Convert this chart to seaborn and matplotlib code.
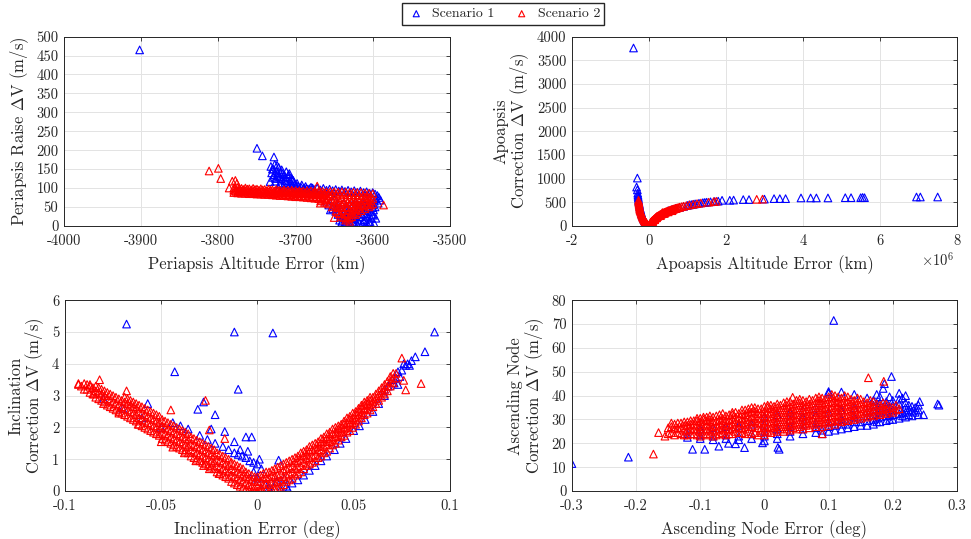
import matplotlib
matplotlib.use("Agg")
import matplotlib.pyplot as plt
import seaborn as sns

# ------------------------------------------------------------
# Data
# columns: (x, [y values at that x]) ; pts: loose (x, y) points
# ------------------------------------------------------------

# --- Periapsis raise ---
peri_s1_pts = [
    (-3902, 465), (-3750, 205), (-3743, 185), (-3728, 182), (-3732, 157), (-3729, 150),
    (-3733, 117), (-3731, 140), (-3729, 128), (-3727, 162), (-3726, 118), (-3725, 145),
    (-3724, 132), (-3722, 155), (-3722, 100), (-3721, 110), (-3720, 140), (-3719, 125),
    (-3718, 148), (-3716, 105), (-3715, 135), (-3714, 120), (-3712, 143), (-3712, 95),
    (-3711, 110), (-3710, 130), (-3709, 100), (-3708, 138), (-3707, 118), (-3705, 125),
    (-3704, 108), (-3702, 115), (-3700, 104), (-3698, 112), (-3695, 100), (-3692, 108),
    (-3690, 98), (-3687, 104), (-3684, 97), (-3680, 102), (-3676, 96), (-3672, 100),
    (-3668, 95), (-3664, 99), (-3660, 94), (-3656, 97), (-3652, 93), (-3648, 96),
    (-3644, 92), (-3640, 95), (-3636, 91), (-3632, 94), (-3628, 90), (-3624, 93),
    (-3620, 89), (-3616, 92), (-3612, 88), (-3608, 90), (-3604, 86), (-3600, 88),
    (-3597, 84), (-3594, 80), (-3596, 72), (-3592, 75), (-3590, 68), (-3598, 65),
    (-3593, 60), (-3600, 55), (-3597, 50),
    (-3730, 150), (-3728, 135), (-3726, 125), (-3724, 160), (-3723, 140), (-3721, 130),
    (-3719, 112), (-3717, 138), (-3713, 128), (-3711, 118), (-3709, 135), (-3706, 112),
    (-3703, 120), (-3701, 110), (-3699, 100), (-3697, 105), (-3693, 102), (-3689, 100),
    (-3686, 99), (-3682, 98), (-3678, 100),
    (-3652, 45), (-3648, 38), (-3645, 30), (-3642, 22), (-3640, 12), (-3641, 5),
    (-3638, 30), (-3636, 18), (-3635, 8), (-3633, 2), (-3632, 26), (-3630, 12),
    (-3628, 4), (-3627, 35), (-3625, 20), (-3624, 8), (-3622, 28), (-3620, 2),
    (-3619, 15), (-3617, 40), (-3616, 24), (-3614, 6), (-3613, 50), (-3611, 32),
    (-3610, 16), (-3609, 4), (-3607, 45), (-3606, 25), (-3605, 10), (-3604, 60),
    (-3603, 38), (-3602, 20), (-3601, 70), (-3600, 48), (-3599, 28), (-3598, 6),
    (-3612, 64), (-3608, 72), (-3618, 55), (-3622, 62), (-3645, 55), (-3655, 42),
    (-3660, 65), (-3650, 70), (-3630, 45), (-3626, 58), (-3634, 48), (-3638, 60),
    (-3643, 15), (-3639, 25), (-3637, 5), (-3634, 15), (-3631, 35), (-3629, 20),
    (-3626, 10), (-3623, 18), (-3621, 38), (-3618, 8), (-3615, 30), (-3612, 12),
    (-3608, 28), (-3606, 2), (-3603, 8), (-3601, 30), (-3599, 42), (-3596, 20),
    (-3605, 55), (-3610, 40), (-3615, 50), (-3620, 45), (-3633, 38), (-3644, 40),
    (-3647, 48), (-3657, 55),
]
peri_s2_cols = [
    (-3780, [100, 94, 88]), (-3775, [101, 93, 87]), (-3770, [99, 92, 86]),
    (-3765, [100, 93, 86]), (-3760, [98, 91, 85]), (-3755, [99, 92, 85]),
    (-3750, [97, 90, 84]), (-3745, [98, 91, 84]), (-3740, [96, 89, 83]),
    (-3735, [97, 90, 83]), (-3730, [95, 88, 82]), (-3725, [96, 89, 81]),
    (-3720, [94, 87, 80]), (-3715, [95, 88, 80]), (-3710, [94, 86, 79]),
    (-3705, [94, 87, 78]), (-3700, [93, 85, 77]), (-3695, [93, 86, 77]),
    (-3690, [92, 84, 76]), (-3685, [93, 85, 75]), (-3680, [92, 83, 74]),
    (-3675, [91, 84, 73]), (-3670, [92, 82, 72]), (-3665, [91, 83, 70]),
    (-3660, [90, 81, 68]), (-3655, [91, 80, 62]), (-3650, [90, 78, 55]),
    (-3645, [89, 75, 62, 48, 35]), (-3640, [90, 74, 57, 40, 25]),
    (-3635, [89, 70, 50, 30, 15]), (-3630, [88, 72, 58, 42, 22, 12]),
    (-3625, [89, 70, 58, 45, 30]), (-3620, [88, 72, 50, 35]),
    (-3615, [88, 74, 55, 40]), (-3610, [87, 76, 60, 45]),
    (-3605, [86, 75, 62, 50]), (-3600, [85, 72, 58]),
    (-3777.5, [97, 91]), (-3772.5, [98, 90]), (-3767.5, [96, 89]), (-3762.5, [97, 89]),
    (-3757.5, [95, 88]), (-3752.5, [96, 88]), (-3747.5, [94, 87]), (-3742.5, [95, 87]),
    (-3737.5, [93, 86]), (-3732.5, [94, 86]), (-3727.5, [92, 85]), (-3722.5, [93, 84]),
    (-3717.5, [91, 83]), (-3712.5, [91, 82]), (-3707.5, [90, 82]), (-3702.5, [90, 81]),
    (-3697.5, [89, 80]), (-3692.5, [89, 80]), (-3687.5, [88, 79]), (-3682.5, [88, 78]),
    (-3677.5, [87, 77]), (-3672.5, [87, 76]), (-3667.5, [86, 75, 66]),
    (-3662.5, [86, 73, 62]), (-3657.5, [85, 70, 58]), (-3652.5, [85, 68, 50]),
    (-3647.5, [84, 66, 52, 40]), (-3642.5, [84, 64, 48, 32]),
    (-3637.5, [83, 62, 40, 22]), (-3632.5, [82, 64, 48, 32, 18]),
    (-3627.5, [82, 64, 50, 36, 24]), (-3622.5, [82, 65, 55, 42, 30]),
    (-3617.5, [81, 66, 50, 45]), (-3612.5, [80, 68, 54]), (-3607.5, [80, 68, 56]),
    (-3602.5, [78, 66, 55]),
]
peri_s2_pts = [
    (-3812, 145), (-3800, 152), (-3797, 125), (-3786, 100), (-3782, 118), (-3778, 120),
    (-3776, 112), (-3672, 105), (-3668, 60), (-3650, 22), (-3586, 55),
]

# --- Apoapsis correction (x in units of 1e6 km) ---
apo_s1_pts = [
    (-0.40, 3760), (-0.30, 1010), (-0.32, 820), (-0.30, 760),
    (-0.29, 690), (-0.285, 650), (-0.28, 620), (-0.275, 590), (-0.27, 560), (-0.265, 530),
    (-0.26, 500), (-0.25, 470), (-0.245, 440), (-0.24, 410), (-0.23, 380), (-0.22, 350),
    (-0.21, 320), (-0.20, 290), (-0.19, 260), (-0.18, 230), (-0.165, 200), (-0.15, 170),
    (-0.135, 140), (-0.12, 115), (-0.10, 90), (-0.08, 65), (-0.06, 45), (-0.04, 25),
    (-0.02, 10),
    (0.50, 320), (0.60, 345), (0.70, 372), (0.80, 392), (0.90, 412), (1.00, 432),
    (1.05, 445), (1.10, 450), (1.15, 458), (1.20, 465), (1.30, 478), (1.40, 490),
    (1.45, 495), (1.50, 500), (1.60, 508), (1.70, 515), (1.80, 522), (1.90, 540),
    (2.10, 540), (2.20, 545), (2.45, 555), (2.60, 555), (3.00, 565), (3.25, 575),
    (3.40, 575), (3.55, 575), (3.95, 590), (4.20, 590), (4.35, 590), (4.65, 590),
    (5.10, 595), (5.25, 595), (5.50, 595), (5.55, 600), (5.60, 595), (6.95, 610),
    (7.05, 610), (7.50, 610),
]
apo_s2_pts = [
    (-0.27, 540), (-0.26, 480), (-0.25, 430), (-0.24, 370), (-0.23, 330), (-0.21, 290),
    (-0.20, 260), (-0.18, 220), (-0.16, 180), (-0.14, 150), (-0.12, 120), (-0.10, 95),
    (-0.08, 70), (-0.06, 50), (-0.04, 30), (-0.02, 12), (0.00, 0), (0.01, 5),
    (-0.265, 510), (-0.255, 455), (-0.245, 400), (-0.235, 350), (-0.22, 310),
    (-0.19, 240), (-0.17, 200), (-0.15, 165), (-0.13, 135), (-0.11, 108), (-0.09, 82),
    (-0.07, 60), (-0.05, 40), (-0.03, 20), (-0.01, 5),
    (0.02, 30), (0.03, 45), (0.04, 55), (0.05, 70), (0.06, 80), (0.07, 90), (0.08, 100),
    (0.10, 115), (0.12, 130), (0.14, 145), (0.16, 160), (0.18, 175), (0.20, 190),
    (0.22, 200), (0.25, 215), (0.28, 230), (0.31, 245), (0.34, 258), (0.37, 270),
    (0.40, 282), (0.43, 292), (0.46, 302), (0.50, 315), (0.54, 327), (0.58, 340),
    (0.62, 350), (0.66, 360), (0.70, 370), (0.75, 383), (0.80, 395), (0.85, 405),
    (0.90, 415), (0.97, 428), (1.05, 442), (1.15, 455), (1.25, 470), (1.35, 482),
    (1.55, 500), (1.68, 512), (1.75, 520), (2.80, 560), (2.95, 565),
    (0.03, 20), (0.05, 40), (0.08, 75), (0.10, 90), (0.15, 130), (0.20, 170),
    (0.30, 215), (0.35, 280), (0.40, 260), (0.50, 295), (0.60, 320),
    (0.015, 15), (0.025, 35), (0.035, 40), (0.045, 62), (0.055, 72), (0.065, 88),
    (0.075, 95), (0.09, 108), (0.11, 122), (0.13, 138), (0.15, 152), (0.17, 168),
    (0.19, 182), (0.21, 196), (0.235, 208), (0.265, 222), (0.295, 238), (0.325, 250),
    (0.355, 264), (0.385, 276), (0.415, 287), (0.445, 297), (0.48, 308), (0.52, 321),
    (0.56, 333), (0.60, 345), (0.64, 355), (0.68, 365), (0.72, 376), (0.78, 390),
]

# --- Inclination correction ---
inc_s1_pts = [
    (-0.068, 5.25), (-0.012, 5.00), (0.008, 4.97), (-0.043, 3.75), (-0.010, 3.20),
    (-0.057, 2.75), (-0.028, 2.80), (-0.031, 2.57), (-0.022, 2.40), (-0.024, 1.95),
    (-0.017, 1.87), (-0.012, 1.55), (-0.006, 1.70), (-0.003, 1.70), (0.011, 0.97),
    (0.092, 5.00), (0.087, 4.38), (0.082, 4.22), (0.080, 4.10), (0.077, 3.95),
    (-0.080, 2.90), (-0.070, 2.60), (-0.060, 2.30), (-0.050, 2.00),
    (-0.044, 2.15), (-0.040, 2.05), (-0.036, 1.95), (-0.030, 1.75), (-0.026, 1.62),
    (-0.022, 1.50), (-0.018, 1.40), (-0.015, 1.30), (-0.012, 1.20), (-0.010, 1.15),
    (-0.008, 1.10), (-0.006, 1.05), (-0.004, 0.95), (-0.002, 0.90), (0.000, 0.85),
    (0.001, 1.00), (0.002, 0.70), (-0.005, 1.25), (-0.009, 1.30), (-0.002, 0.60),
    (0.000, 0.40), (0.004, 0.20), (0.006, 0.10), (0.010, 0.30), (0.014, 0.40),
    (0.016, 0.05), (0.008, 0.00), (0.012, 0.05), (0.015, 0.15), (0.018, 0.25),
    (0.021, 0.35), (0.024, 0.50), (0.027, 0.65), (0.030, 0.80), (0.033, 0.95),
    (0.036, 1.10), (0.040, 1.30), (0.043, 1.50), (0.046, 1.65), (0.050, 1.90),
    (0.053, 2.05), (0.056, 2.25), (0.060, 2.50), (0.063, 2.75), (0.066, 3.00),
    (0.068, 3.30), (0.070, 3.50), (0.072, 3.55), (0.073, 3.75), (0.075, 3.80),
    (0.074, 3.60), (0.071, 3.40), (0.076, 4.00), (0.078, 4.00), (0.079, 3.95),
    (0.073, 3.35), (0.066, 3.20),
]
inc_s2_cols = [
    (-0.093, [3.35]), (-0.090, [3.20, 3.38]), (-0.087, [3.10, 3.30]),
    (-0.084, [2.95, 3.15, 3.30]), (-0.081, [2.85, 3.05, 3.20]), (-0.078, [2.70, 2.90, 3.10]),
    (-0.075, [2.60, 2.80, 3.00]), (-0.072, [2.50, 2.70, 2.90]),
    (-0.069, [2.40, 2.60, 2.80, 2.95]), (-0.066, [2.30, 2.50, 2.70, 2.85]),
    (-0.063, [2.20, 2.40, 2.60, 2.75]), (-0.060, [2.05, 2.25, 2.45, 2.65]),
    (-0.057, [1.95, 2.15, 2.35, 2.55]), (-0.054, [1.85, 2.05, 2.25, 2.45]),
    (-0.051, [1.75, 1.95, 2.15, 2.35]), (-0.048, [1.60, 1.80, 2.00, 2.20]),
    (-0.045, [1.50, 1.70, 1.90, 2.10]), (-0.042, [1.40, 1.60, 1.80, 2.00]),
    (-0.039, [1.30, 1.50, 1.70, 1.90]), (-0.036, [1.20, 1.40, 1.60, 1.80]),
    (-0.033, [1.05, 1.25, 1.45, 1.65]), (-0.030, [0.95, 1.15, 1.35, 1.55]),
    (-0.027, [0.85, 1.05, 1.25, 1.45]), (-0.024, [0.75, 0.95, 1.15, 1.35]),
    (-0.021, [0.60, 0.80, 1.00, 1.20]), (-0.018, [0.50, 0.70, 0.90, 1.10]),
    (-0.015, [0.40, 0.60, 0.80, 1.00]), (-0.012, [0.25, 0.45, 0.65, 0.85]),
    (-0.009, [0.15, 0.35, 0.55, 0.75]), (-0.006, [0.05, 0.25, 0.45, 0.60]),
    (-0.003, [0.00, 0.15, 0.35, 0.50]), (0.000, [0.00, 0.15, 0.30, 0.45]),
    (0.003, [0.00, 0.20, 0.40, 0.55]), (0.006, [0.00, 0.20, 0.40, 0.60]),
    (0.009, [0.05, 0.25, 0.45, 0.70]), (0.012, [0.15, 0.35, 0.55, 0.80]),
    (0.015, [0.30, 0.50, 0.70, 0.90]), (0.018, [0.40, 0.60, 0.80, 1.00]),
    (0.021, [0.55, 0.75, 0.95, 1.10]), (0.024, [0.70, 0.90, 1.10, 1.25]),
    (0.027, [0.85, 1.05, 1.25, 1.40]), (0.030, [0.95, 1.15, 1.35, 1.50]),
    (0.033, [1.10, 1.30, 1.50, 1.65]), (0.036, [1.25, 1.45, 1.65, 1.80]),
    (0.039, [1.45, 1.60, 1.80, 1.95]), (0.042, [1.60, 1.75, 1.95, 2.05]),
    (0.045, [1.75, 1.95, 2.10, 2.20]), (0.048, [1.90, 2.10, 2.25, 2.35]),
    (0.051, [2.10, 2.25, 2.40, 2.50]), (0.054, [2.30, 2.45, 2.60, 2.70]),
    (0.057, [2.45, 2.60, 2.75, 2.85]), (0.060, [2.65, 2.80, 2.95]),
    (0.063, [2.85, 3.00, 3.15]), (0.066, [3.05, 3.20, 3.35]),
    (0.069, [3.30, 3.45, 3.60]), (0.072, [3.55, 3.70]),
    (-0.0915, [3.30]), (-0.0885, [3.20, 3.35]), (-0.0855, [3.05, 3.25]),
    (-0.0825, [2.90, 3.10, 3.25]), (-0.0795, [2.80, 3.00, 3.15]),
    (-0.0765, [2.65, 2.85, 3.05]), (-0.0735, [2.55, 2.75, 2.95]),
    (-0.0705, [2.45, 2.65, 2.85]), (-0.0675, [2.35, 2.55, 2.75, 2.90]),
    (-0.0645, [2.25, 2.45, 2.65, 2.80]), (-0.0615, [2.10, 2.30, 2.50, 2.70]),
    (-0.0585, [2.00, 2.20, 2.40, 2.60]), (-0.0555, [1.90, 2.10, 2.30, 2.50]),
    (-0.0525, [1.80, 2.00, 2.20, 2.40]), (-0.0495, [1.65, 1.85, 2.05, 2.25]),
    (-0.0465, [1.55, 1.75, 1.95, 2.15]), (-0.0435, [1.45, 1.65, 1.85, 2.05]),
    (-0.0405, [1.35, 1.55, 1.75, 1.95]), (-0.0375, [1.25, 1.45, 1.65, 1.85]),
    (-0.0345, [1.10, 1.30, 1.50, 1.70]), (-0.0315, [1.00, 1.20, 1.40, 1.60]),
    (-0.0285, [0.90, 1.10, 1.30, 1.50]), (-0.0255, [0.80, 1.00, 1.20, 1.40]),
    (-0.0225, [0.70, 0.90, 1.10, 1.30]), (-0.0195, [0.55, 0.75, 0.95, 1.15]),
    (-0.0165, [0.45, 0.65, 0.85, 1.05]), (-0.0135, [0.30, 0.50, 0.70, 0.90]),
    (-0.0105, [0.20, 0.40, 0.60, 0.80]), (-0.0075, [0.10, 0.30, 0.50, 0.70]),
    (-0.0045, [0.05, 0.20, 0.40, 0.55]), (-0.0015, [0.00, 0.10, 0.30, 0.45]),
    (0.0015, [0.00, 0.10, 0.30, 0.50]), (0.0045, [0.05, 0.25, 0.45, 0.60]),
    (0.0075, [0.05, 0.30, 0.50, 0.65]), (0.0105, [0.10, 0.30, 0.50, 0.75]),
    (0.0135, [0.20, 0.45, 0.65, 0.85]), (0.0165, [0.35, 0.55, 0.75, 0.95]),
    (0.0195, [0.50, 0.70, 0.90, 1.05]), (0.0225, [0.60, 0.80, 1.00, 1.20]),
    (0.0255, [0.80, 1.00, 1.15, 1.30]), (0.0285, [0.90, 1.10, 1.30, 1.45]),
    (0.0315, [1.05, 1.25, 1.40, 1.55]), (0.0345, [1.20, 1.40, 1.55, 1.70]),
    (0.0375, [1.35, 1.55, 1.70, 1.85]), (0.0405, [1.50, 1.70, 1.85, 2.00]),
    (0.0435, [1.70, 1.85, 2.00, 2.10]), (0.0465, [1.85, 2.00, 2.15, 2.30]),
    (0.0495, [2.00, 2.15, 2.30, 2.45]), (0.0525, [2.20, 2.35, 2.50, 2.60]),
    (0.0555, [2.40, 2.55, 2.70, 2.80]), (0.0585, [2.55, 2.70, 2.85, 2.95]),
    (0.0615, [2.75, 2.90, 3.05]), (0.0645, [2.95, 3.10, 3.25]),
    (0.0675, [3.15, 3.30, 3.45]), (0.0705, [3.40, 3.55, 3.70]),
]
inc_s2_pts = [
    (-0.027, 2.85), (-0.045, 2.55), (-0.068, 3.15), (-0.082, 3.50), (-0.093, 3.38),
    (-0.087, 3.35), (-0.025, 1.92), (-0.017, 1.65), (0.075, 4.18), (0.076, 3.48),
    (0.077, 3.18), (0.085, 3.38), (-0.085, 3.05), (-0.080, 2.75), (-0.072, 2.45),
    (-0.062, 2.10), (-0.050, 1.55), (-0.044, 1.38), (-0.038, 1.20), (-0.032, 0.95),
    (-0.025, 0.70), (-0.020, 0.55), (-0.028, 0.80),
]

# --- Ascending node correction ---
asc_s1_cols = [
    (-0.12, [22.5, 24.0]), (-0.10, [22.0, 23.5, 26.0]), (-0.08, [21.5, 23.0, 26.5]),
    (-0.06, [22.0, 23.5, 27.0]), (-0.04, [21.5, 23.0, 27.5]), (-0.02, [22.0, 24.0, 28.0]),
    (0.00, [21.0, 23.0, 25.0, 28.0, 31.0]), (0.02, [22.0, 24.0, 26.0, 29.0, 32.0]),
    (0.04, [23.0, 25.0, 27.0, 30.0, 33.0]), (0.06, [24.0, 26.0, 28.0, 31.0, 34.0]),
    (0.08, [24.5, 26.5, 28.5, 32.0, 35.0]), (0.10, [25.0, 27.0, 29.0, 33.0, 41.0]),
    (0.12, [26.0, 28.0, 30.0, 34.0, 41.5]), (0.14, [27.0, 29.0, 31.0, 35.0, 40.5]),
    (0.16, [27.5, 29.5, 31.5, 33.5, 39.0]), (0.17, [28.0, 30.0, 32.0, 34.0, 36.0, 38.0]),
    (0.18, [29.0, 31.0, 33.0, 35.0, 37.0, 39.5]), (0.19, [29.5, 31.5, 33.5, 35.5, 37.5]),
    (0.20, [30.0, 32.0, 34.0, 36.0, 38.0]), (0.21, [30.5, 32.5, 34.5, 36.5, 38.5]),
    (0.22, [31.0, 33.0, 35.0, 37.0]), (0.23, [31.5, 33.5, 35.5]), (0.24, [32.0, 34.0, 36.0]),
    (0.09, [24.0, 25.5]), (0.11, [25.5, 27.5]), (0.13, [26.5, 28.0]), (0.15, [27.5, 29.0]),
    (0.175, [29.0, 30.5, 40.5]), (0.195, [30.0, 31.5, 39.5]), (0.215, [31.5, 33.0, 39.0]),
    (0.225, [32.0, 34.0, 36.0]), (0.235, [33.0, 35.0]),
]
asc_s1_pts = [
    (-0.300, 11.5), (-0.212, 14.2), (-0.112, 17.5), (-0.093, 17.5), (-0.071, 18.8),
    (-0.031, 18.2), (0.021, 18.3), (0.023, 17.5), (0.108, 71.5), (0.198, 48.0),
    (0.187, 45.0), (0.185, 43.0), (0.270, 36.5), (0.272, 36.0), (0.248, 32.0),
    (0.242, 37.5), (-0.056, 20.0), (-0.045, 19.8), (-0.003, 20.2), (0.100, 41.7),
    (0.210, 41.0), (0.220, 40.0),
]
asc_s2_cols = [
    (-0.15, [24.0, 26.5]), (-0.14, [23.5, 26.0, 28.0]), (-0.13, [24.0, 26.5, 28.5]),
    (-0.12, [23.5, 25.5, 27.5, 29.0]), (-0.11, [24.0, 26.0, 28.0, 29.5]),
    (-0.10, [23.0, 25.0, 27.0, 29.0, 30.5]), (-0.09, [23.5, 25.5, 27.5, 29.5, 31.0]),
    (-0.08, [23.0, 25.0, 27.0, 29.0, 31.0]), (-0.07, [24.0, 26.0, 28.0, 30.0, 32.0]),
    (-0.06, [23.5, 25.5, 27.5, 29.5, 31.5]), (-0.05, [24.0, 26.0, 28.0, 30.0, 32.0, 33.0]),
    (-0.04, [24.5, 26.5, 28.5, 30.5, 32.5]), (-0.03, [24.0, 26.0, 28.0, 30.0, 32.0, 34.0]),
    (-0.02, [24.0, 27.0, 29.0, 31.0, 33.0, 35.0]), (-0.01, [23.5, 26.5, 28.5, 30.5, 32.5, 34.5]),
    (0.00, [23.5, 25.5, 27.5, 29.5, 31.5, 33.5, 35.5]), (0.01, [24.5, 26.5, 28.5, 30.5, 32.5, 34.5, 36.0]),
    (0.02, [25.0, 27.0, 29.0, 31.0, 33.0, 35.0, 36.5]), (0.03, [25.0, 27.0, 29.0, 31.0, 33.0, 35.0, 37.0]),
    (0.04, [25.5, 27.5, 29.5, 31.5, 33.5, 35.5, 37.5]), (0.05, [26.0, 28.0, 30.0, 32.0, 34.0, 36.0, 38.0]),
    (0.06, [26.0, 28.0, 30.0, 32.0, 34.0, 36.0, 38.0]), (0.07, [26.5, 28.5, 30.5, 32.5, 34.5, 36.5, 38.5]),
    (0.08, [27.0, 29.0, 31.0, 33.0, 35.0, 37.0, 39.0]), (0.09, [27.0, 29.0, 31.0, 33.0, 35.0, 37.0, 39.0]),
    (0.10, [27.5, 29.5, 31.5, 33.5, 35.5, 37.5, 39.5]), (0.11, [28.0, 30.0, 32.0, 34.0, 36.0, 38.0, 40.0]),
    (0.12, [29.0, 31.0, 33.0, 35.0, 37.0, 39.0]), (0.13, [29.5, 31.5, 33.5, 35.5, 37.5, 39.5]),
    (0.14, [30.0, 32.0, 34.0, 36.0, 38.0]), (0.15, [30.5, 32.5, 34.5, 36.5, 38.5]),
    (0.16, [31.0, 33.0, 35.0, 37.0]), (0.17, [31.5, 33.5, 35.5, 37.5]),
    (0.18, [32.0, 34.0, 36.0]), (0.19, [32.5, 34.5, 36.5]), (0.20, [33.0, 35.0]),
    (0.21, [34.5]),
    (-0.145, [24.5, 27.0]), (-0.135, [24.5, 26.5, 28.5]), (-0.125, [23.5, 25.5, 27.5, 29.0]),
    (-0.115, [24.0, 26.0, 28.0, 29.5]), (-0.105, [23.5, 25.5, 27.5, 29.5, 30.5]),
    (-0.095, [24.0, 26.0, 28.0, 30.0, 31.0]), (-0.085, [24.0, 26.0, 28.0, 30.0, 31.5]),
    (-0.075, [23.5, 25.5, 27.5, 29.5, 31.5]), (-0.065, [24.5, 26.5, 28.5, 30.5, 32.5]),
    (-0.055, [24.0, 26.0, 28.0, 30.0, 32.0]), (-0.045, [25.0, 27.0, 29.0, 31.0, 33.0]),
    (-0.035, [24.5, 26.5, 28.5, 30.5, 32.5, 34.0]), (-0.025, [25.0, 27.0, 29.0, 31.0, 33.0, 34.5]),
    (-0.015, [24.5, 27.5, 29.5, 31.5, 33.5, 35.0]), (-0.005, [24.5, 26.5, 28.5, 30.5, 32.5, 34.5]),
    (0.005, [25.0, 27.0, 29.0, 31.0, 33.0, 35.0, 36.0]), (0.015, [25.5, 27.5, 29.5, 31.5, 33.5, 35.5]),
    (0.025, [26.0, 28.0, 30.0, 32.0, 34.0, 36.0]), (0.035, [26.0, 28.0, 30.0, 32.0, 34.0, 36.0, 37.5]),
    (0.045, [26.5, 28.5, 30.5, 32.5, 34.5, 36.5]), (0.055, [27.0, 29.0, 31.0, 33.0, 35.0, 37.0, 38.5]),
    (0.065, [27.5, 29.5, 31.5, 33.5, 35.5, 37.5]), (0.075, [28.0, 30.0, 32.0, 34.0, 36.0, 38.0]),
    (0.085, [28.0, 30.0, 32.0, 34.0, 36.0, 38.0, 39.5]), (0.095, [28.5, 30.5, 32.5, 34.5, 36.5, 38.5]),
    (0.105, [29.0, 31.0, 33.0, 35.0, 37.0, 39.0, 40.5]), (0.115, [29.5, 31.5, 33.5, 35.5, 37.5, 39.5]),
    (0.125, [30.0, 32.0, 34.0, 36.0, 38.0, 40.0]), (0.135, [30.5, 32.5, 34.5, 36.5, 38.5]),
    (0.145, [31.0, 33.0, 35.0, 37.0, 39.0]), (0.155, [31.5, 33.5, 35.5, 37.5]),
    (0.165, [32.0, 34.0, 36.0, 38.0]), (0.175, [32.5, 34.5, 36.5]),
    (0.185, [33.0, 35.0, 37.0]), (0.195, [33.5, 35.5]), (0.205, [34.0, 36.0]),
]
asc_s2_pts = [
    (-0.173, 15.5), (0.162, 47.5), (0.186, 46.0), (0.044, 39.3), (-0.165, 24.5),
    (-0.155, 23.0), (0.090, 24.0), (-0.145, 28.5),
]

# axis ticks / labels
peri_xticks = [-4000, -3900, -3800, -3700, -3600, -3500]
peri_yticks = [0, 50, 100, 150, 200, 250, 300, 350, 400, 450, 500]
apo_xticks = [-2, 0, 2, 4, 6, 8]
apo_yticks = [0, 500, 1000, 1500, 2000, 2500, 3000, 3500, 4000]
inc_xticks = [-0.1, -0.05, 0, 0.05, 0.1]
inc_xlabels = ["-0.1", "-0.05", "0", "0.05", "0.1"]
inc_yticks = [0, 1, 2, 3, 4, 5, 6]
asc_xticks = [-0.3, -0.2, -0.1, 0, 0.1, 0.2, 0.3]
asc_xlabels = ["-0.3", "-0.2", "-0.1", "0", "0.1", "0.2", "0.3"]
asc_yticks = [0, 10, 20, 30, 40, 50, 60, 70, 80]


def expand(cols=(), pts=()):
    xs, ys = [], []
    for x, yl in cols:
        xs += [x] * len(yl)
        ys += list(yl)
    for x, y in pts:
        xs.append(x)
        ys.append(y)
    return xs, ys


#--------------------------------------------------------------
# Style
#--------------------------------------------------------------
sns.set_style("white")
plt.rcParams["font.family"] = ["cmr10", "DejaVu Serif"]
plt.rcParams["mathtext.fontset"] = "cm"
plt.rcParams["axes.unicode_minus"] = False
plt.rcParams["axes.formatter.use_mathtext"] = True

fig = plt.figure(figsize=(9.71, 5.39), dpi=100)
axes = [
    fig.add_axes([0.0659, 0.581, 0.3975, 0.351]),
    fig.add_axes([0.589, 0.581, 0.3965, 0.351]),
    fig.add_axes([0.0669, 0.089, 0.3965, 0.354]),
    fig.add_axes([0.589, 0.089, 0.3965, 0.354]),
]

panels = [
    (expand(pts=peri_s1_pts), expand(peri_s2_cols, peri_s2_pts),
     (-4000, -3500), (0, 500), peri_xticks, [str(t) for t in peri_xticks], peri_yticks,
     "Periapsis Altitude Error (km)", "Periapsis Raise $\\Delta$V (m/s)"),
    (expand(pts=apo_s1_pts), expand(pts=apo_s2_pts),
     (-2, 8), (0, 4000), apo_xticks, [str(t) for t in apo_xticks], apo_yticks,
     "Apoapsis Altitude Error (km)", "Apoapsis\nCorrection $\\Delta$V (m/s)"),
    (expand(pts=inc_s1_pts), expand(inc_s2_cols, inc_s2_pts),
     (-0.1, 0.1), (0, 6), inc_xticks, inc_xlabels, inc_yticks,
     "Inclination Error (deg)", "Inclination\nCorrection $\\Delta$V (m/s)"),
    (expand(asc_s1_cols, asc_s1_pts), expand(asc_s2_cols, asc_s2_pts),
     (-0.3, 0.3), (0, 80), asc_xticks, asc_xlabels, asc_yticks,
     "Ascending Node Error (deg)", "Ascending Node\nCorrection $\\Delta$V (m/s)"),
]

dark = "#262626"
for ax, (s1, s2, xlim, ylim, xt, xtl, yt, xlab, ylab) in zip(axes, panels):
    for (x, y), col, lab in [(s1, "blue", "Scenario 1"), (s2, "red", "Scenario 2")]:
        sns.scatterplot(x=x, y=y, ax=ax, marker="^", s=30, color=col,
                        facecolor="none", edgecolor=col, linewidth=0.8,
                        label=lab, legend=False)
    ax.set_xlim(*xlim)
    ax.set_ylim(*ylim)
    ax.set_xticks(xt)
    ax.set_xticklabels(xtl)
    ax.set_yticks(yt)
    ax.set_yticklabels([str(t) for t in yt])
    ax.set_xlabel(xlab, fontsize=12, color=dark, labelpad=5)
    ax.set_ylabel(ylab, fontsize=12, color=dark, labelpad=4, linespacing=1.0)
    ax.grid(True, color="#e3e3e3", lw=0.7)
    ax.set_axisbelow(True)
    ax.tick_params(direction="in", length=3, width=0.6, colors=dark, labelsize=10.5,
                   top=True, right=True)
    ax.tick_params(axis="x", pad=6)
    ax.tick_params(axis="y", pad=4)
    for sp in ax.spines.values():
        sp.set_color(dark)
        sp.set_linewidth(0.7)
    if ax.get_legend() is not None:
        ax.get_legend().remove()

axes[1].text(0.95, -0.18, r"$\times10^{6}$", transform=axes[1].transAxes,
             ha="center", va="center", fontsize=10.5, color=dark)

handles, labels = axes[0].get_legend_handles_labels()
fig.legend(handles[:2], labels[:2], loc="center", bbox_to_anchor=(503 / 971, 1 - 14 / 539),
           ncol=2, frameon=True, fancybox=False, edgecolor=dark, framealpha=1,
           fontsize=10, handletextpad=0.4, columnspacing=1.2, borderpad=0.3,
           handlelength=1.5, markerscale=0.8)

fig.savefig("out.png", dpi=100)
